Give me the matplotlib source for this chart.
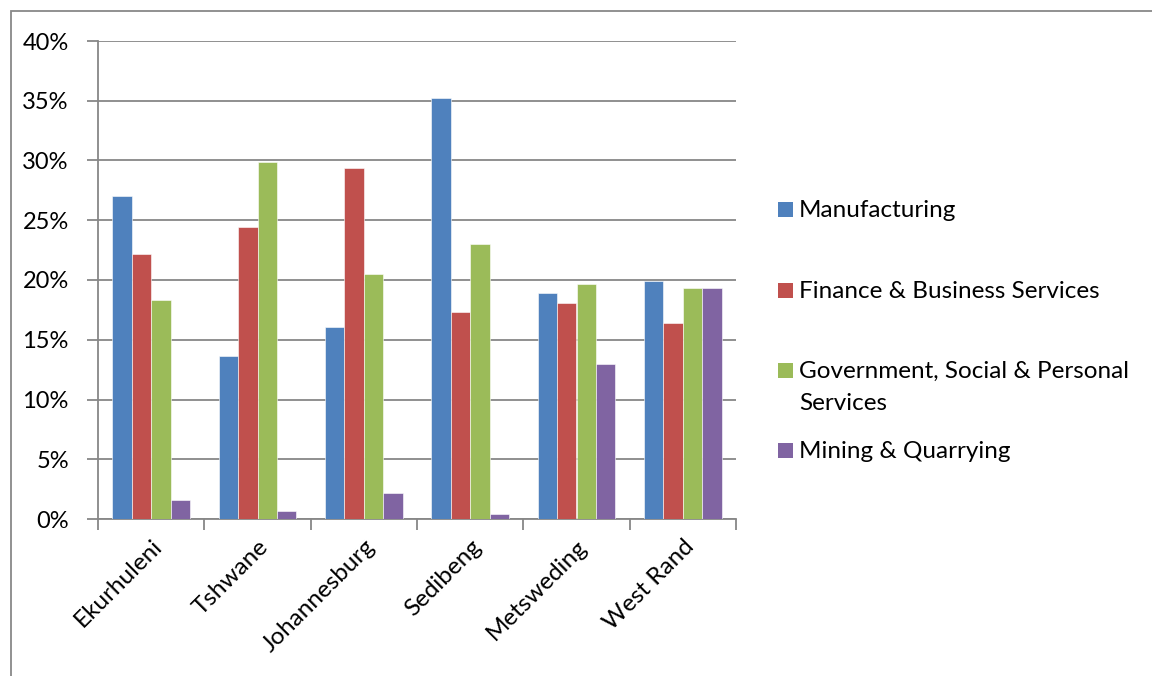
import matplotlib
matplotlib.use("Agg")
import matplotlib.pyplot as plt
import numpy as np
from matplotlib.patches import Rectangle
from matplotlib.ticker import PercentFormatter, MultipleLocator

categories = ["Ekurhuleni", "Tshwane", "Johannesburg", "Sedibeng", "Metsweding", "West Rand"]
series_names = ["Manufacturing", "Finance & Business Services",
                "Government, Social & Personal\nServices", "Mining & Quarrying"]
manufacturing = [27.0, 13.6, 16.1, 35.2, 18.9, 19.9]
finance = [22.2, 24.4, 29.4, 17.3, 18.1, 16.4]
government = [18.3, 29.9, 20.5, 23.0, 19.7, 19.3]
mining = [1.6, 0.7, 2.2, 0.4, 13.0, 19.3]
colors = ["#4F81BD", "#C0504D", "#9BBB59", "#8064A2"]

plt.rcParams['font.family'] = ['Lato', 'DejaVu Sans']

W, H = 1152, 676
fig = plt.figure(figsize=(W / 100, H / 100), dpi=100)
fig.patches.append(Rectangle((11 / W, -0.1), 1.2, (H - 11) / H + 0.1, transform=fig.transFigure,
                             fill=False, edgecolor="#888888", linewidth=1.3))

ax = fig.add_axes([98 / W, 157 / H, 638 / W, 478 / H])
values = [manufacturing, finance, government, mining]
x = np.arange(len(categories))
bw = 0.182
for i, (vals, c) in enumerate(zip(values, colors)):
    ax.bar(x + (i - 1.5) * bw, vals, width=bw, color=c, edgecolor="white", linewidth=0.4, zorder=3)

ax.set_xlim(-0.5, len(categories) - 0.5)
ax.set_ylim(0, 40)
ax.yaxis.set_major_locator(MultipleLocator(5))
ax.yaxis.set_major_formatter(PercentFormatter(decimals=0))
ax.grid(axis='y', color="#878787", linewidth=1.3, zorder=0)
for s in ['top', 'right']:
    ax.spines[s].set_visible(False)
for s in ['left', 'bottom']:
    ax.spines[s].set_color("#878787")
    ax.spines[s].set_linewidth(1.3)
ax.set_xticks(np.arange(-0.5, len(categories), 1.0), minor=False)
ax.set_xticklabels([])
ax.set_xticks(x, minor=True)
ax.set_xticklabels(categories, minor=True, rotation=45, ha='right', rotation_mode='anchor', fontsize=17.5)
ax.tick_params(axis='x', which='major', length=8, width=1.3, color="#878787")
ax.tick_params(axis='x', which='minor', length=0, pad=12)
ax.tick_params(axis='y', length=8, width=1.3, color="#878787", labelsize=17, pad=13)

# legend
leg_y = [210, 291, 371, 451]
for name, c, yy in zip(series_names, colors, leg_y):
    fig.patches.append(Rectangle((778 / W, 1 - (yy + 7) / H), 15 / W, 15 / H,
                                 transform=fig.transFigure, facecolor=c, edgecolor='none'))
    for k, line in enumerate(name.split("\n")):
        fig.text(799 / W, 1 - (yy + 7 + 32 * k) / H, line, fontsize=17.5, va='baseline', ha='left')

fig.savefig("out.png", dpi=100)
